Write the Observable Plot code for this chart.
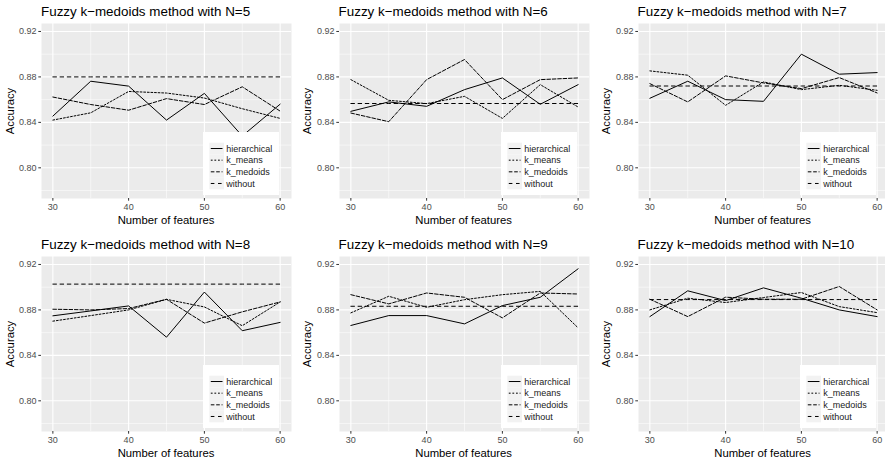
<!DOCTYPE html>
<html>
<head>
<meta charset="utf-8">
<script src="https://cdn.jsdelivr.net/npm/d3@7"></script>
<script src="https://cdn.jsdelivr.net/npm/@observablehq/plot@0.6"></script>
<style>
  html, body { margin: 0; padding: 0; background: #fff; }
  body { width: 885px; height: 464px; position: relative; overflow: hidden;
         font-family: "Liberation Sans", Arial, Helvetica, sans-serif; }
  .panel { position: absolute; width: 295px; height: 232px; }
  .panel .title { position: absolute; left: 41px; top: 0; font-size: 13.4px; line-height: 23px;
                  color: #000; white-space: nowrap; }
  .panel .plot { position: absolute; left: 0; top: 23px; }
  .panel .xlab { position: absolute; left: 41px; width: 250px; top: 213.8px; text-align: center;
                 font-size: 11.3px; line-height: 13px; color: #000; white-space: nowrap; }
  .panel .ylab { position: absolute; left: 9.5px; top: 110.5px; font-size: 11.3px; line-height: 13px;
                 transform: translate(-50%, -50%) rotate(-90deg); white-space: nowrap; color: #000; }
  .panel .legend { position: absolute; left: 203px; top: 132px; }
</style>
</head>
<body>
<script>
// Accuracy of the fuzzy k-medoids method by number of features, one panel per N
const features = [30, 35, 40, 45, 50, 55, 60];
const panelN = [5, 6, 7, 8, 9, 10];
const methods = ["hierarchical", "k_means", "k_medoids", "without"];

// one row per N (5..10), one value per feature count
const hierarchical = [
  [0.8455, 0.8762, 0.8719, 0.8420, 0.8655, 0.8280, 0.8560],
  [0.8497, 0.8580, 0.8541, 0.8688, 0.8791, 0.8559, 0.8732],
  [0.8612, 0.8762, 0.8600, 0.8585, 0.9000, 0.8824, 0.8838],
  [0.8748, 0.8791, 0.8835, 0.8560, 0.8957, 0.8617, 0.8690],
  [0.8663, 0.8750, 0.8750, 0.8677, 0.8838, 0.8911, 0.9162],
  [0.8741, 0.8968, 0.8882, 0.8994, 0.8903, 0.8800, 0.8741]
];
const kMeans = [
  [0.8420, 0.8484, 0.8672, 0.8658, 0.8614, 0.8520, 0.8435],
  [0.8776, 0.8594, 0.8565, 0.8629, 0.8435, 0.8732, 0.8535],
  [0.8853, 0.8815, 0.8550, 0.8756, 0.8688, 0.8726, 0.8682],
  [0.8701, 0.8750, 0.8800, 0.8893, 0.8826, 0.8661, 0.8870],
  [0.8774, 0.8920, 0.8823, 0.8890, 0.8934, 0.8963, 0.8642],
  [0.8800, 0.8903, 0.8865, 0.8909, 0.8953, 0.8829, 0.8776]
];
const kMedoids = [
  [0.8623, 0.8557, 0.8507, 0.8609, 0.8557, 0.8713, 0.8499],
  [0.8482, 0.8406, 0.8776, 0.8953, 0.8600, 0.8776, 0.8791],
  [0.8741, 0.8580, 0.8809, 0.8747, 0.8697, 0.8794, 0.8659],
  [0.8806, 0.8800, 0.8812, 0.8893, 0.8684, 0.8783, 0.8870],
  [0.8934, 0.8853, 0.8949, 0.8911, 0.8730, 0.8949, 0.8940],
  [0.8894, 0.8741, 0.8912, 0.8894, 0.8894, 0.9006, 0.8800]
];
const without = [
  [0.8800, 0.8800, 0.8800, 0.8800, 0.8800, 0.8800, 0.8800],
  [0.8566, 0.8566, 0.8566, 0.8566, 0.8566, 0.8566, 0.8566],
  [0.8720, 0.8720, 0.8720, 0.8720, 0.8720, 0.8720, 0.8720],
  [0.9027, 0.9027, 0.9027, 0.9027, 0.9027, 0.9027, 0.9027],
  [0.8832, 0.8832, 0.8832, 0.8832, 0.8832, 0.8832, 0.8832],
  [0.8891, 0.8891, 0.8891, 0.8891, 0.8891, 0.8891, 0.8891]
];

// axis breaks
const xTicks = [30, 40, 50, 60];
const xMinor = [35, 45, 55];
const yTicks = [0.80, 0.84, 0.88, 0.92];
const yMinor = [0.78, 0.82, 0.86, 0.90];

const series = [hierarchical, kMeans, kMedoids, without];
const dashes = [null, "1.8,1.8", "3.6,1.8", "3.6,3.6"];
const panelLeft = [0, 297.6, 596.6];
const panelTop = [0, 233];

panelN.forEach((n, i) => {
  const rows = [];
  methods.forEach((m, k) => series[k][i].forEach((v, j) =>
    rows.push({method: m, feature: features[j], accuracy: v})));

  const div = document.createElement("div");
  div.className = "panel";
  div.style.left = panelLeft[i % 3] + "px";
  div.style.top = panelTop[Math.floor(i / 3)] + "px";
  document.body.appendChild(div);

  const title = document.createElement("div");
  title.className = "title";
  title.textContent = `Fuzzy k\u2212medoids method with N=${n}`;
  div.appendChild(title);

  const chart = Plot.plot({
    width: 295,
    height: 195,
    marginTop: 0,
    marginRight: 4,
    marginBottom: 20,
    marginLeft: 41,
    x: {domain: [28.5, 61.5]},
    y: {domain: [0.773, 0.927]},
    style: {fontFamily: "'Liberation Sans', Arial, sans-serif", fontSize: "9px",
            background: "transparent", overflow: "visible"},
    marks: [
      Plot.frame({fill: "#EBEBEB", stroke: "none"}),
      Plot.gridX(xMinor, {stroke: "#fff", strokeOpacity: 1, strokeWidth: 0.55}),
      Plot.gridY(yMinor, {stroke: "#fff", strokeOpacity: 1, strokeWidth: 0.55}),
      Plot.gridX(xTicks, {stroke: "#fff", strokeOpacity: 1, strokeWidth: 1.1}),
      Plot.gridY(yTicks, {stroke: "#fff", strokeOpacity: 1, strokeWidth: 1.1}),
      ...methods.map((m, k) => Plot.line(rows.filter(d => d.method === m), {
        x: "feature", y: "accuracy", stroke: "#000", strokeWidth: 1,
        strokeDasharray: dashes[k]
      })),
      Plot.axisX(xTicks, {tickSize: 2.7, tickPadding: 2.2, stroke: "#333", fill: "#4D4D4D",
                          label: null, fontSize: 9}),
      Plot.axisY(yTicks, {tickSize: 2.7, tickPadding: 2.2, stroke: "#333", fill: "#4D4D4D",
                          label: null, fontSize: 9, tickFormat: d3.format(".2f")})
    ]
  });
  chart.classList.add("plot");
  div.appendChild(chart);

  const xlab = document.createElement("div");
  xlab.className = "xlab";
  xlab.textContent = "Number of features";
  div.appendChild(xlab);

  const ylab = document.createElement("div");
  ylab.className = "ylab";
  ylab.textContent = "Accuracy";
  div.appendChild(ylab);

  // legend drawn inside the panel, bottom right
  const keyH = 11.65, keyW = 14.7, keyX = 6.3, keyY = 10.7;
  const leg = d3.create("svg")
    .attr("class", "legend")
    .attr("width", 76)
    .attr("height", 63);
  leg.append("rect").attr("width", 76).attr("height", 63).attr("fill", "#fff");
  const item = leg.selectAll("g").data(methods).join("g")
    .attr("transform", (d, k) => `translate(0,${keyY + k * keyH})`);
  item.append("rect")
    .attr("x", keyX).attr("width", keyW).attr("height", keyH).attr("fill", "#F2F2F2");
  item.append("line")
    .attr("x1", keyX + 1.5).attr("x2", keyX + keyW - 1.5)
    .attr("y1", keyH / 2).attr("y2", keyH / 2)
    .attr("stroke", "#000").attr("stroke-width", 1)
    .attr("stroke-dasharray", (d, k) => dashes[k]);
  item.append("text")
    .attr("x", keyX + keyW + 2.3).attr("y", keyH / 2).attr("dy", "0.35em")
    .attr("font-family", "'Liberation Sans', Arial, sans-serif")
    .attr("font-size", 9).attr("fill", "#1a1a1a")
    .text(d => d);
  div.appendChild(leg.node());
});
</script>
</body>
</html>
